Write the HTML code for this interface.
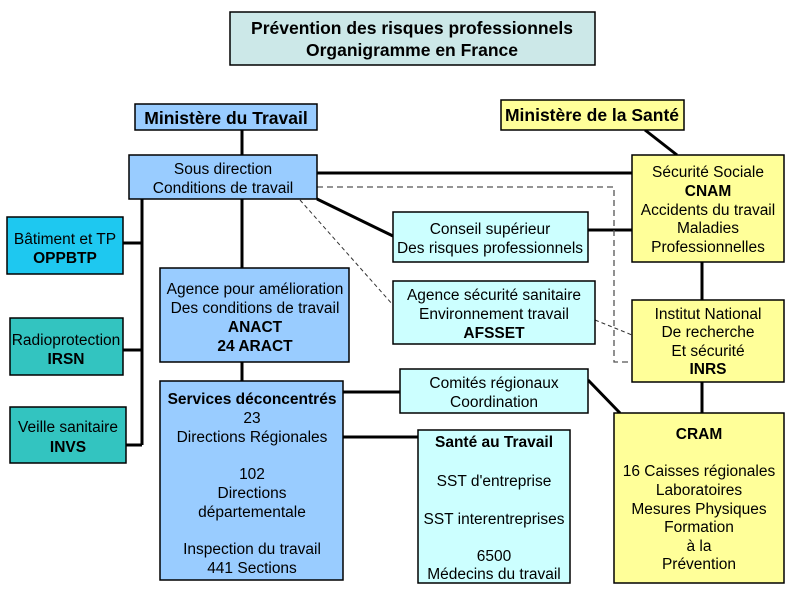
<!DOCTYPE html>
<html><head><meta charset="utf-8"><style>
body{margin:0;background:#fff}
svg text{font-family:"Liberation Sans",Arial,sans-serif;font-size:15.5px;fill:#000;text-anchor:middle}
.b{font-weight:bold}
.t{font-size:17.5px;font-weight:bold}
</style></head><body>
<svg width="800" height="600" xmlns="http://www.w3.org/2000/svg">
<g stroke="#000" stroke-width="3" fill="none">
<line x1="142" y1="199" x2="142" y2="445"/>
<line x1="123" y1="243" x2="142" y2="243"/>
<line x1="123" y1="350" x2="142" y2="350"/>
<line x1="126" y1="445" x2="142" y2="445"/>
<line x1="242" y1="130" x2="242" y2="155"/>
<line x1="242" y1="199" x2="242" y2="268"/>
<line x1="242" y1="362" x2="242" y2="381"/>
<line x1="317" y1="173" x2="632" y2="173"/>
<line x1="317" y1="199" x2="393" y2="236"/>
<line x1="588" y1="230" x2="632" y2="230"/>
<line x1="645" y1="130" x2="677" y2="155"/>
<line x1="702" y1="262" x2="702" y2="300"/>
<line x1="702" y1="382" x2="702" y2="413"/>
<line x1="343" y1="392" x2="400" y2="392"/>
<line x1="343" y1="437" x2="418" y2="437"/>
<line x1="588" y1="380" x2="620" y2="413"/>
</g>
<g stroke="#555" stroke-width="1.3" fill="none" stroke-dasharray="6,4">
<polyline points="317,187 614,187 614,362 632,362"/>
</g>
<g stroke="#333" stroke-width="1" fill="none" stroke-dasharray="4,3">
<line x1="300" y1="200" x2="393" y2="305"/>
<line x1="595" y1="320" x2="632" y2="335"/>
</g>
<g stroke="#000" stroke-width="1.5">
<rect x="230" y="12" width="365" height="53" fill="#cce8e8"/>
<rect x="135" y="104" width="182" height="26" fill="#99ccff"/>
<rect x="129" y="155" width="188" height="44" fill="#99ccff"/>
<rect x="7" y="217" width="116" height="57" fill="#1ec8f0"/>
<rect x="10" y="318" width="113" height="57" fill="#33c4c0"/>
<rect x="10" y="407" width="116" height="56" fill="#33c4c0"/>
<rect x="160" y="268" width="189" height="94" fill="#99ccff"/>
<rect x="160" y="381" width="183" height="199" fill="#99ccff"/>
<rect x="418" y="430" width="152" height="153" fill="#ccffff"/>
<rect x="400" y="369" width="188" height="44" fill="#ccffff"/>
<rect x="393" y="212" width="195" height="50" fill="#ccffff"/>
<rect x="393" y="281" width="202" height="63" fill="#ccffff"/>
<rect x="501" y="100" width="183" height="30" fill="#ffff99"/>
<rect x="632" y="155" width="152" height="107" fill="#ffff99"/>
<rect x="632" y="300" width="152" height="82" fill="#ffff99"/>
<rect x="614" y="413" width="170" height="170" fill="#ffff99"/>
</g>
<text class="t" x="412" y="34">Prévention des risques professionnels</text>
<text class="t" x="412" y="56">Organigramme en France</text>
<text class="t" x="226" y="124">Ministère du Travail</text>
<text x="223" y="174">Sous direction</text>
<text x="223" y="193">Conditions de travail</text>
<text x="65" y="244">Bâtiment et TP</text>
<text class="b" x="65" y="263">OPPBTP</text>
<text x="66" y="345">Radioprotection</text>
<text class="b" x="66" y="364">IRSN</text>
<text x="68" y="432">Veille sanitaire</text>
<text class="b" x="68" y="452">INVS</text>
<text x="255" y="294">Agence pour amélioration</text>
<text x="255" y="313">Des conditions de travail</text>
<text class="b" x="255" y="332">ANACT</text>
<text class="b" x="255" y="351">24 ARACT</text>
<text class="b" x="252" y="404">Services déconcentrés</text>
<text x="252" y="423">23</text>
<text x="252" y="442">Directions Régionales</text>
<text x="252" y="479">102</text>
<text x="252" y="498">Directions</text>
<text x="252" y="517">départementale</text>
<text x="252" y="554">Inspection du travail</text>
<text x="252" y="573">441 Sections</text>
<text class="b" x="494" y="447">Santé au Travail</text>
<text x="494" y="486">SST d'entreprise</text>
<text x="494" y="524">SST interentreprises</text>
<text x="494" y="561">6500</text>
<text x="494" y="579">Médecins du travail</text>
<text x="494" y="388">Comités régionaux</text>
<text x="494" y="407">Coordination</text>
<text x="490" y="234">Conseil supérieur</text>
<text x="490" y="253">Des risques professionnels</text>
<text x="494" y="300">Agence sécurité sanitaire</text>
<text x="494" y="319">Environnement travail</text>
<text class="b" x="494" y="338">AFSSET</text>
<text class="t" x="592" y="121">Ministère de la Santé</text>
<text x="708" y="177">Sécurité Sociale</text>
<text class="b" x="708" y="196">CNAM</text>
<text x="708" y="215">Accidents du travail</text>
<text x="708" y="233">Maladies</text>
<text x="708" y="252">Professionnelles</text>
<text x="708" y="319">Institut National</text>
<text x="708" y="337">De recherche</text>
<text x="708" y="356">Et sécurité</text>
<text class="b" x="708" y="374">INRS</text>
<text class="b" x="699" y="439">CRAM</text>
<text x="699" y="476">16 Caisses régionales</text>
<text x="699" y="495">Laboratoires</text>
<text x="699" y="514">Mesures Physiques</text>
<text x="699" y="532">Formation</text>
<text x="699" y="551">à la</text>
<text x="699" y="569">Prévention</text>
</svg>
</body></html>
